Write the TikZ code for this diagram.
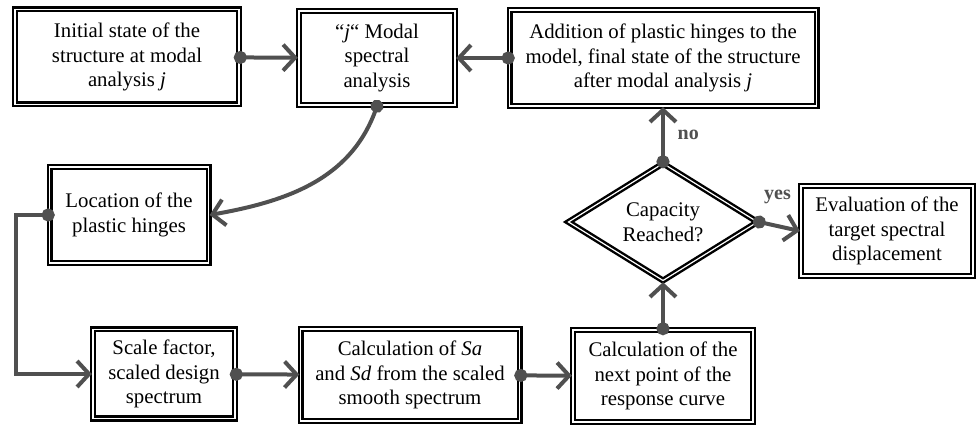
\documentclass[tikz,border=0pt]{standalone}
\usepackage{fontspec}
\setmainfont{Liberation Serif}
\usepackage{xcolor}
\definecolor{flowgrey}{RGB}{80, 80, 80}
\usepackage{tikz}
\usetikzlibrary{arrows.meta, positioning, shapes.geometric}

\begin{document}
\begin{tikzpicture}[x=0.5pt, y=-0.5pt,
    stepbox/.style={draw, line width=1.2pt, double=white, double distance=0.6pt,
        align=center, inner sep=0pt, font=\fontsize{10.4}{12.3}\selectfont},
    checkbox/.style={stepbox, diamond, aspect=1.6},
    flow/.style={draw=flowgrey, line width=2pt, shorten <=-3.2pt,
        {Circle[length=6.5pt]}-{Straight Barb[length=6pt, width=13pt]}},
    answer/.style={font=\fontsize{10}{12}\selectfont\bfseries, text=flowgrey}]
    \useasboundingbox (0,0) rectangle (978,426);

    % top row
    \node[stepbox, minimum width=112pt, minimum height=47.5pt] (init) at (127,57)
        {Initial state of the\\structure at modal\\analysis \textit{j}};
    \node[stepbox, minimum width=78pt, minimum height=47pt] (modal) at (377,58)
        {“\textit{j}“ Modal\\spectral\\analysis};
    \node[stepbox, minimum width=153.5pt, minimum height=48pt] (hinges) at (663,58)
        {Addition of plastic hinges to the\\model, final state of the structure\\after modal analysis \textit{j}};

    % middle
    \node[stepbox, minimum width=79.5pt, minimum height=48pt] (loc) at (129,215)
        {Location of the\\plastic hinges};
    \node[checkbox, minimum width=95pt, minimum height=59pt] (cap) at (663,222)
        {Capacity\\Reached?};
    \node[stepbox, minimum width=86pt, minimum height=45pt] (target) at (887,231)
        {Evaluation of the\\target spectral\\displacement};

    % bottom row
    \node[stepbox, minimum width=71pt, minimum height=44.5pt] (scale) at (164,374)
        {Scale factor,\\scaled design\\spectrum};
    \node[stepbox, minimum width=109.5pt, minimum height=46pt] (calcsa) at (410,375)
        {Calculation of \textit{Sa}\\and \textit{Sd} from the scaled\\smooth spectrum};
    \node[stepbox, minimum width=90pt, minimum height=46pt] (nextpt) at (663,376)
        {Calculation of the\\next point of the\\response curve};

    % connectors
    \draw[flow] (init) -- (modal);
    \draw[flow] (hinges) -- (modal);
    \draw[flow] (modal.south) to[out=-110, in=10] (loc.east);
    \draw[flow] (loc.west) -- ++(-32,0) |- (scale.west);
    \draw[flow] (scale) -- (calcsa);
    \draw[flow] (calcsa) -- (nextpt);
    \draw[flow] (nextpt.north) -- (cap.south);
    \draw[flow] (cap.north) -- node[right=3pt, answer] {no} (hinges.south);
    \draw[flow] (cap.east) -- node[above=7pt, pos=0.45, answer] {yes} (target.west);
\end{tikzpicture}
\end{document}
